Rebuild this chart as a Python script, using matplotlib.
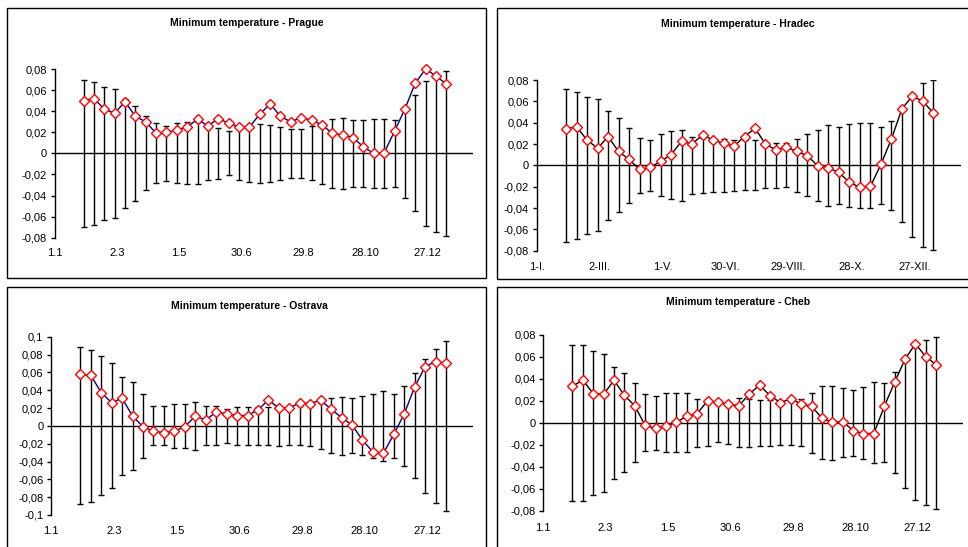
import numpy as np
import matplotlib
matplotlib.use('Agg')
import matplotlib.pyplot as plt
import matplotlib.ticker as ticker
from matplotlib.patches import Rectangle

plt.rcParams.update({
    'font.family': 'Liberation Sans',
    'font.size': 8,
    'figure.dpi': 100,
})

W, H = 968, 547

# den v roce pro kazdy bod (krok 10 dni)
days = np.arange(28, 379, 10)

date_ticks = [0, 60, 120, 180, 240, 300, 360]
date_labels = ['1.1', '2.3', '1.5', '30.6', '29.8', '28.10', '27.12']
roman_labels = ['1-I.', '2-III.', '1-V.', '30-VI.', '29-VIII.', '28-X.', '27-XII.']

prague_val = [0.050, 0.052, 0.042, 0.038, 0.049, 0.035, 0.030, 0.019, 0.020, 0.022,
              0.025, 0.0325, 0.026, 0.033, 0.0285, 0.025, 0.025, 0.037, 0.047, 0.035,
              0.030, 0.034, 0.0315, 0.027, 0.019, 0.0175, 0.015, 0.006, 0.000, 0.0005,
              0.021, 0.042, 0.0667, 0.080, 0.0733, 0.0658]
prague_lim = [0.070, 0.068, 0.063, 0.061, 0.052, 0.045, 0.035, 0.0285, 0.026, 0.0285,
              0.0295, 0.0295, 0.025, 0.024, 0.021, 0.025, 0.027, 0.028, 0.027, 0.025,
              0.023, 0.023, 0.0255, 0.029, 0.0325, 0.0335, 0.0315, 0.0315, 0.0325, 0.033,
              0.0315, 0.042, 0.055, 0.069, 0.075, 0.078]

hradec_val = [0.0344, 0.036, 0.0238, 0.016, 0.027, 0.013, 0.0056, -0.0038, -0.002, 0.0037,
              0.010, 0.0225, 0.020, 0.0284, 0.024, 0.0206, 0.018, 0.027, 0.0347, 0.020,
              0.0144, 0.017, 0.013, 0.009, -0.0006, -0.0025, -0.0066, -0.016, -0.0206, -0.0197,
              0.001, 0.0247, 0.053, 0.065, 0.060, 0.049]
hradec_lim = [0.072, 0.069, 0.064, 0.062, 0.051, 0.044, 0.035, 0.026, 0.024, 0.029,
              0.032, 0.033, 0.027, 0.026, 0.025, 0.025, 0.024, 0.0234, 0.0234, 0.021,
              0.021, 0.0206, 0.0247, 0.029, 0.033, 0.038, 0.036, 0.039, 0.0397, 0.040,
              0.036, 0.0415, 0.053, 0.067, 0.077, 0.0797]

ostrava_val = [0.0576, 0.0568, 0.0374, 0.026, 0.031, 0.011, -0.001, -0.006, -0.0075, -0.006,
               -0.001, 0.011, 0.0067, 0.0153, 0.0135, 0.0116, 0.0116, 0.018, 0.029, 0.020,
               0.020, 0.0258, 0.025, 0.0288, 0.0187, 0.0093, 0.001, -0.016, -0.0295, -0.0307,
               -0.0093, 0.0135, 0.044, 0.0665, 0.072, 0.070]
ostrava_lim = [0.088, 0.085, 0.078, 0.070, 0.055, 0.049, 0.036, 0.022, 0.022, 0.0247,
               0.0247, 0.027, 0.022, 0.022, 0.019, 0.021, 0.021, 0.021, 0.021, 0.0224,
               0.021, 0.022, 0.0228, 0.0258, 0.031, 0.0325, 0.0307, 0.033, 0.036, 0.039,
               0.036, 0.045, 0.059, 0.0755, 0.0867, 0.095]

cheb_val = [0.0333, 0.039, 0.0267, 0.026, 0.0388, 0.025, 0.0155, -0.0024, -0.005, -0.003,
            0.0006, 0.006, 0.0085, 0.020, 0.0188, 0.017, 0.0155, 0.026, 0.0345, 0.0248,
            0.0185, 0.0218, 0.0173, 0.015, 0.0045, 0.0006, 0.0012, -0.007, -0.0097, -0.0097,
            0.015, 0.037, 0.058, 0.072, 0.060, 0.053]
cheb_lim = [0.071, 0.071, 0.0658, 0.063, 0.051, 0.045, 0.036, 0.026, 0.0245, 0.027,
            0.027, 0.027, 0.0218, 0.021, 0.0176, 0.019, 0.0224, 0.022, 0.021, 0.021,
            0.0203, 0.0203, 0.0215, 0.0275, 0.0333, 0.034, 0.0315, 0.030, 0.033, 0.037,
            0.036, 0.046, 0.059, 0.070, 0.075, 0.078]


def comma_fmt(v, pos):
    # desetinna carka, bez koncovych nul
    if abs(v) < 1e-9:
        return '0'
    return ('%g' % round(v, 3)).replace('.', ',')


def panel(fig, frame, plot_box, title, title_xy, values, limits, ymax,
          xlabels, line_color, label_y):
    # ramecek grafu
    fx0, fy0, fx1, fy1 = frame
    fig.patches.append(Rectangle((fx0 / W, 1 - fy1 / H), (fx1 - fx0) / W, (fy1 - fy0) / H,
                                 transform=fig.transFigure, fill=False,
                                 edgecolor='black', linewidth=1.0))
    fig.text(title_xy[0] / W, 1 - title_xy[1] / H, title, ha='center', va='center',
             fontsize=7.5, fontweight='bold')

    x0, y0, x1, y1 = plot_box
    ax = fig.add_axes([x0 / W, 1 - y1 / H, (x1 - x0) / W, (y1 - y0) / H])
    ax.patch.set_alpha(0)

    # hranice vyznamnosti kolem nuly
    ax.errorbar(days, np.zeros(len(days)), yerr=limits, fmt='none', ecolor='black',
                elinewidth=1.0, capsize=2.5, capthick=1.0, zorder=2)
    ax.axhline(0, color='black', linewidth=1.0, zorder=1)
    ax.plot(days, values, color=line_color, linewidth=1.0, marker='D', markersize=5.5,
            markerfacecolor='white', markeredgecolor='red', markeredgewidth=1.0,
            zorder=3, clip_on=False)

    ax.set_xlim(0, 404)
    ax.set_ylim(-ymax, ymax)
    ax.set_yticks(np.arange(-ymax, ymax + 1e-9, 0.02))
    ax.yaxis.set_major_formatter(ticker.FuncFormatter(comma_fmt))
    ax.tick_params(axis='y', direction='out', length=3, width=1, pad=2.5, labelsize=8)

    ax.set_xticks(date_ticks)
    ax.set_xticklabels(xlabels)
    ax.tick_params(axis='x', length=0, pad=(label_y - y1 - 5) * 0.72, labelsize=8)

    for side in ['top', 'right', 'bottom']:
        ax.spines[side].set_visible(False)
    ax.spines['left'].set_linewidth(1.0)
    return ax


fig = plt.figure(figsize=(W / 100, H / 100), dpi=100)

panel(fig, (7, 8, 486, 278), (54.5, 69, 473.3, 237.7),
      'Minimum temperature - Prague', (247, 23.3),
      prague_val, prague_lim, 0.08, date_labels, '#000080', 253)

panel(fig, (497, 8, 975, 279), (536.7, 80, 960.7, 250.7),
      'Minimum temperature - Hradec', (738, 24),
      hradec_val, hradec_lim, 0.08, roman_labels, 'black', 266.7)

panel(fig, (7, 287, 486, 560), (51, 336.7, 473.3, 515),
      'Minimum temperature - Ostrava', (249, 306),
      ostrava_val, ostrava_lim, 0.1, date_labels, '#000080', 530.7)

panel(fig, (497, 287, 975, 560), (543.3, 335, 963.3, 510.7),
      'Minimum temperature - Cheb', (738, 302),
      cheb_val, cheb_lim, 0.08, date_labels, 'black', 528)

fig.savefig('out.png', dpi=100)
plt.close()
